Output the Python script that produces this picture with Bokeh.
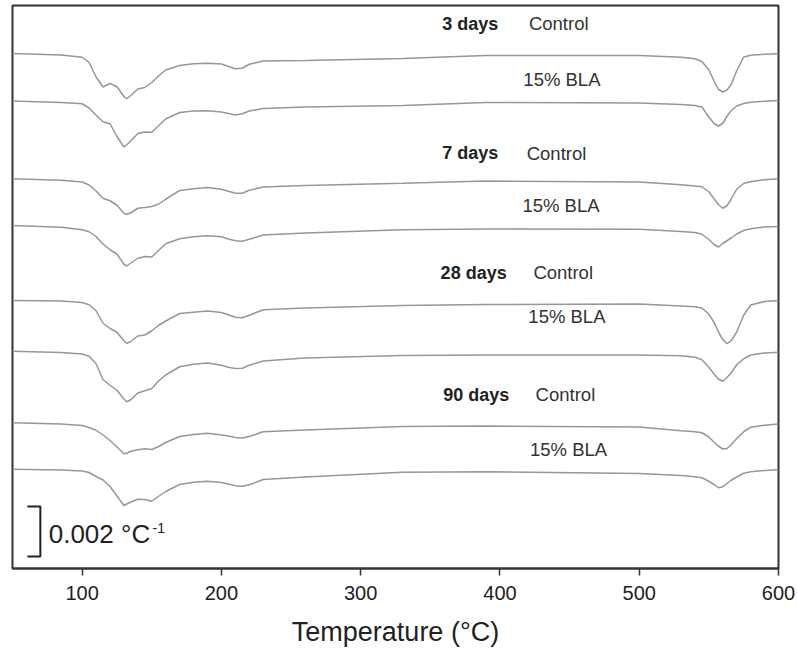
from bokeh.plotting import figure
from bokeh.models import Range1d, FixedTicker
from bokeh.embed import file_html
from bokeh.resources import INLINE
from bokeh.core.properties import value

# ---- data (DTG signal, units of 1e-3 per degC, relative to each curve's start) ----
temperature = [50, 85, 100, 105, 110, 115, 120, 125, 130, 132, 135, 140, 145, 150, 155,
               160, 170, 180, 190, 200, 205, 210, 215, 220, 230, 260, 330, 390, 500,
               530, 540, 545, 550, 554, 557, 560, 563, 566, 570, 575, 580, 590, 600]

control_3d = [0, -0.06, -0.15, -0.36, -0.94, -1.34, -1.20, -1.33, -1.72, -1.81, -1.68, -1.42,
              -1.36, -1.16, -0.89, -0.66, -0.48, -0.41, -0.39, -0.42, -0.52, -0.61, -0.59,
              -0.43, -0.30, -0.28, -0.20, -0.08, -0.08,
              -0.15, -0.21, -0.32, -0.66, -1.13, -1.44, -1.54, -1.46, -1.24, -0.69, -0.14,
              -0.07, -0.03, -0.01]
bla_3d = [0, -0.06, -0.11, -0.28, -0.57, -0.83, -0.91, -1.42, -1.84, -1.76, -1.59, -1.30,
          -1.24, -1.25, -0.98, -0.72, -0.46, -0.40, -0.39, -0.44, -0.50, -0.56, -0.51,
          -0.40, -0.30, -0.24, -0.18, -0.06, -0.08,
          -0.14, -0.18, -0.24, -0.64, -0.92, -1.00, -0.89, -0.61, -0.39, -0.20, -0.10,
          -0.05, -0.01, 0.02]
control_7d = [0, -0.06, -0.13, -0.25, -0.49, -0.78, -0.88, -1.06, -1.38, -1.42, -1.36, -1.18,
              -1.15, -1.11, -1.01, -0.82, -0.47, -0.40, -0.35, -0.42, -0.50, -0.58, -0.58,
              -0.46, -0.33, -0.27, -0.18, -0.09, -0.13,
              -0.24, -0.29, -0.32, -0.52, -0.82, -1.04, -1.18, -1.08, -0.81, -0.42, -0.19,
              -0.12, -0.04, 0]
bla_7d = [0, -0.07, -0.17, -0.25, -0.44, -0.74, -0.97, -1.14, -1.55, -1.62, -1.50, -1.31,
          -1.24, -1.26, -0.99, -0.73, -0.53, -0.45, -0.41, -0.45, -0.54, -0.61, -0.63,
          -0.55, -0.38, -0.30, -0.17, -0.14, -0.15,
          -0.24, -0.28, -0.35, -0.56, -0.77, -0.86, -0.72, -0.61, -0.50, -0.34, -0.20,
          -0.13, -0.06, -0.04]
control_28d = [0, -0.02, -0.08, -0.17, -0.41, -0.91, -1.12, -1.27, -1.61, -1.71, -1.64, -1.42,
               -1.38, -1.21, -0.99, -0.82, -0.52, -0.47, -0.42, -0.48, -0.57, -0.67, -0.69,
               -0.59, -0.37, -0.30, -0.20, -0.16, -0.14,
               -0.22, -0.25, -0.30, -0.55, -0.90, -1.28, -1.56, -1.73, -1.61, -1.26, -0.59,
               -0.18, -0.04, 0]
bla_28d = [0, -0.05, -0.11, -0.20, -0.50, -1.14, -1.36, -1.56, -1.91, -2.02, -1.94, -1.67,
           -1.58, -1.49, -1.18, -0.95, -0.62, -0.52, -0.47, -0.56, -0.64, -0.69, -0.68,
           -0.56, -0.39, -0.27, -0.17, -0.15, -0.15,
           -0.18, -0.24, -0.34, -0.64, -0.93, -1.12, -1.20, -1.05, -0.86, -0.54, -0.30,
           -0.15, -0.07, -0.04]
control_90d = [0, -0.05, -0.11, -0.19, -0.30, -0.49, -0.71, -0.97, -1.24, -1.22, -1.14, -1.08,
               -1.04, -1.07, -0.95, -0.79, -0.55, -0.47, -0.42, -0.49, -0.53, -0.59, -0.61,
               -0.55, -0.36, -0.29, -0.15, -0.13, -0.17,
               -0.32, -0.36, -0.40, -0.57, -0.79, -0.94, -1.05, -1.03, -0.88, -0.63, -0.36,
               -0.18, -0.10, -0.05]
bla_90d = [0, -0.03, -0.07, -0.13, -0.29, -0.43, -0.69, -1.07, -1.45, -1.39, -1.31, -1.20,
           -1.21, -1.28, -1.08, -0.89, -0.61, -0.52, -0.48, -0.53, -0.59, -0.66, -0.68,
           -0.62, -0.41, -0.31, -0.12, -0.10, -0.17,
           -0.25, -0.30, -0.34, -0.48, -0.62, -0.74, -0.70, -0.57, -0.44, -0.31, -0.16,
           -0.10, -0.05, -0.02]

# vertical stacking offsets of the curves (same units)
offsets = [20.6, 18.7, 15.59, 13.72, 10.72, 8.69, 5.83, 3.97]

x_ticks = [100, 200, 300, 400, 500, 600]

day_labels = ["3 days", "7 days", "28 days", "90 days"]
day_label_x = [358.6, 358.6, 357.4, 359.3]
day_label_y = [21.8, 16.64, 11.83, 6.96]
control_label_x = [420.8, 419.2, 424.0, 425.6]
control_label_y = [21.8, 16.6, 11.83, 6.96]
bla_label_x = [416.8, 416.1, 420.4, 421.6]
bla_label_y = [19.56, 14.52, 10.08, 4.76]

scale_value = 0.002  # per degC, drawn as 2 units of 1e-3
scale_bar_x = 70.0
scale_bar_bottom = 0.48

series = [control_3d, bla_3d, control_7d, bla_7d,
          control_28d, bla_28d, control_90d, bla_90d]

FONT = "Liberation Sans"

p = figure(width=797, height=652, output_backend="svg", toolbar_location=None,
           x_range=Range1d(50, 600), y_range=Range1d(0, 22.52),
           y_axis_location=None,
           min_border_left=12, min_border_right=19, min_border_top=5,
           min_border_bottom=84)
p.background_fill_color = "white"
p.border_fill_color = "white"
p.outline_line_color = "#333333"
p.outline_line_width = 2
p.grid.visible = False

ax = p.xaxis[0]
ax.ticker = FixedTicker(ticks=x_ticks)
ax.axis_line_color = "#333333"
ax.axis_line_width = 2
ax.major_tick_line_color = "#333333"
ax.major_tick_line_width = 1.5
ax.major_tick_out = 7
ax.major_tick_in = 0
ax.minor_tick_line_color = None
ax.major_label_text_font = FONT
ax.major_label_text_font_size = "20px"
ax.major_label_text_color = "#222222"
ax.major_label_standoff = 10
ax.axis_label = "Temperature (°C)"
ax.axis_label_text_font = FONT
ax.axis_label_text_font_size = "27px"
ax.axis_label_text_font_style = "normal"
ax.axis_label_text_color = "#222222"
ax.axis_label_standoff = 14

for vals, off in zip(series, offsets):
    p.line(temperature, [v + off for v in vals], line_color="#979797", line_width=1.5)

p.text(x=day_label_x, y=day_label_y, text=day_labels,
       text_font=value(FONT), text_font_size="18px", text_font_style="bold",
       text_color="#222222", text_baseline="middle", text_align="left")
p.text(x=control_label_x, y=control_label_y, text=["Control"] * 4,
       text_font=value(FONT), text_font_size="18.5px",
       text_color="#333333", text_baseline="middle", text_align="left")
p.text(x=bla_label_x, y=bla_label_y, text=["15% BLA"] * 4,
       text_font=value(FONT), text_font_size="18.5px",
       text_color="#333333", text_baseline="middle", text_align="left")

# scale bar
bar_len = scale_value * 1000
p.line(x=[scale_bar_x - 9.3, scale_bar_x, scale_bar_x, scale_bar_x - 9.3],
       y=[scale_bar_bottom + bar_len, scale_bar_bottom + bar_len,
          scale_bar_bottom, scale_bar_bottom],
       line_color="#222222", line_width=2)
p.text(x=[scale_bar_x + 6.0], y=[scale_bar_bottom + 0.9], text=["%.3f °C" % scale_value],
       text_font=value(FONT), text_font_size="26px",
       text_color="#222222", text_baseline="middle", text_align="left")
p.text(x=[scale_bar_x + 80.5], y=[scale_bar_bottom + 1.16], text=["-1"],
       text_font=value(FONT), text_font_size="14px",
       text_color="#222222", text_baseline="middle", text_align="left")

open("out.html", "w").write(file_html(p, INLINE))
